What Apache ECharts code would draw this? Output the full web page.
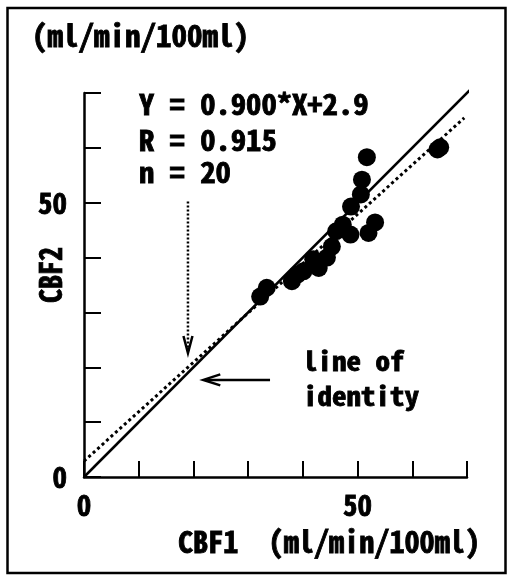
<!DOCTYPE html>
<html>
<head>
<meta charset="utf-8">
<script src="https://cdn.jsdelivr.net/npm/echarts@6/dist/echarts.min.js"></script>
<style>
html,body{margin:0;padding:0;background:#fff;}
#c{width:513px;height:580px;}
</style>
</head>
<body>
<div id="c"></div>
<script>
// ---- data ----
var cbfPoints = [
  [32.2, 32.9], [33.4, 34.5], [38.0, 35.7], [39.0, 36.9], [40.1, 37.5],
  [41.9, 39.7], [42.9, 38.1], [44.4, 40.0], [45.3, 42.0], [46.1, 44.8],
  [47.3, 46.0], [48.7, 44.2], [48.8, 49.3], [50.6, 51.5], [50.8, 54.2],
  [51.7, 58.3], [52.0, 44.5], [53.2, 46.4], [64.6, 59.7], [65.1, 60.1]
];
var identityLine = [[0, 0], [70.5, 70.5]];
var regressionLine = [[0, 2.9], [69.5, 65.45]];
var xTickLabels = ['0', '50'];
var yTickLabels = ['0', '50'];
// annotation arrows: [x1, y1, x2, y2, dotted(1/0)]
var arrowSegments = [
  [19.0, 50.2, 19.0, 22.6, 1],
  [34.0, 17.7, 21.8, 17.7, 0]
];
var equationLines = ['Y = 0.900*X+2.9', 'R = 0.915', 'n = 20'];
var unitText = '(ml/min/100ml)';
var xName = 'CBF1  (ml/min/100ml)';
var yName = 'CBF2';
var identityText = ['line of', 'identity'];

// pick a gothic monospace font if present
var ctx = document.createElement('canvas').getContext('2d');
function fontAvailable(name) {
  ctx.font = 'bold 40px serif';
  var a = ctx.measureText('0.9mlW(i)').width;
  ctx.font = 'bold 40px "' + name + '", serif';
  var b = ctx.measureText('0.9mlW(i)').width;
  return Math.abs(a - b) > 0.5;
}
var FONT_NAME = fontAvailable('Noto Sans Mono CJK JP') ? 'Noto Sans Mono CJK JP' : 'DejaVu Sans Mono';
var FONT = '"' + FONT_NAME + '", "DejaVu Sans Mono", monospace';
function pitchScale(size, pitch) {
  ctx.font = 'bold ' + size + 'px ' + FONT;
  return pitch / ctx.measureText('0').width;
}
function txt(text, x, y, size, pitch) {
  return {
    type: 'text', x: x, y: y, scaleX: pitchScale(size, pitch), z: 100,
    style: {
      text: text, font: 'bold ' + size + 'px ' + FONT, fill: '#000',
      stroke: '#000', lineWidth: 0.8,
      textAlign: 'left', textVerticalAlign: 'middle', align: 'left', verticalAlign: 'middle'
    }
  };
}

var chart = echarts.init(document.getElementById('c'));
var labelFmt = function (list) {
  return function (v) { return list.indexOf(String(v)) >= 0 ? String(v) : ''; };
};
var tickFontSize = FONT_NAME === 'DejaVu Sans Mono' ? 26 : 29;
var option = {
  animation: false,
  backgroundColor: '#fff',
  grid: { left: 84, top: 93, right: 46, bottom: 103 },
  xAxis: {
    type: 'value', min: 0, max: 70, interval: 10,
    axisLine: { show: true, lineStyle: { color: '#000', width: 2.5 } },
    axisTick: { show: true, inside: true, length: 16, lineStyle: { color: '#000', width: 2 } },
    axisLabel: { formatter: labelFmt(xTickLabels), margin: 13, color: '#000',
      fontFamily: FONT_NAME, fontWeight: 'bold', fontSize: tickFontSize,
      textBorderColor: '#000', textBorderWidth: 0.8 },
    splitLine: { show: false }
  },
  yAxis: {
    type: 'value', min: 0, max: 70, interval: 10,
    axisLine: { show: true, lineStyle: { color: '#000', width: 2.5 } },
    axisTick: { show: true, inside: true, length: 17, lineStyle: { color: '#000', width: 2 } },
    axisLabel: { formatter: labelFmt(yTickLabels), margin: 17, color: '#000',
      fontFamily: FONT_NAME, fontWeight: 'bold', fontSize: tickFontSize,
      textBorderColor: '#000', textBorderWidth: 0.8 },
    splitLine: { show: false }
  },
  series: [
    {
      type: 'line', data: identityLine, symbol: 'none', clip: false,
      lineStyle: { color: '#000', width: 2.5 }, z: 3
    },
    {
      type: 'line', data: regressionLine, symbol: 'none', clip: false,
      lineStyle: { color: '#000', width: 3, type: [3, 3] }, z: 3
    },
    {
      type: 'scatter', data: cbfPoints, symbol: 'circle', symbolSize: 18,
      itemStyle: { color: '#000', opacity: 1 }, z: 4
    },
    {
      type: 'custom', data: arrowSegments, clip: false, z: 5,
      renderItem: function (params, api) {
        var p1 = api.coord([api.value(0), api.value(1)]);
        var p2 = api.coord([api.value(2), api.value(3)]);
        var dotted = api.value(4) === 1;
        var dx = p2[0] - p1[0], dy = p2[1] - p1[1];
        var len = Math.sqrt(dx * dx + dy * dy);
        var ux = dx / len, uy = dy / len, nx = -uy, ny = ux;
        var L = 17, W = dotted ? 4.5 : 5.5;
        var b1 = [p2[0] - ux * L + nx * W, p2[1] - uy * L + ny * W];
        var b2 = [p2[0] - ux * L - nx * W, p2[1] - uy * L - ny * W];
        return {
          type: 'group',
          children: [
            { type: 'line', shape: { x1: p1[0], y1: p1[1], x2: p2[0] - ux * 2, y2: p2[1] - uy * 2 },
              style: { stroke: '#000', lineWidth: 2.5, lineDash: dotted ? [2, 2] : null } },
            { type: 'polyline', shape: { points: [b1, p2, b2] },
              style: { stroke: '#000', fill: null, lineWidth: 2.5 } }
          ]
        };
      }
    }
  ],
  graphic: [
    { type: 'rect', shape: { x: 7.5, y: 8, width: 498, height: 565 },
      style: { stroke: '#000', fill: null, lineWidth: 2.5 }, z: 100 },
    txt(unitText, 32, 36, 30, 15.5),
    txt(equationLines[0], 139, 104.5, 28.5, 15.3),
    txt(equationLines[1], 139, 139.7, 28.5, 15.3),
    txt(equationLines[2], 139, 172.5, 28.5, 15.3),
    txt(identityText[0], 303, 361, 26, 14.5),
    txt(identityText[1], 303, 396, 26, 14.5),
    txt(xName, 178, 541.5, 30, 15.1),
    {
      type: 'text', x: 50, y: 275, rotation: Math.PI / 2, scaleX: pitchScale(31, 14), z: 100,
      style: { text: yName, font: 'bold 31px ' + FONT, fill: '#000', stroke: '#000', lineWidth: 0.8,
        textAlign: 'center', textVerticalAlign: 'middle', align: 'center', verticalAlign: 'middle' }
    }
  ]
};
chart.setOption(option);
</script>
</body>
</html>
